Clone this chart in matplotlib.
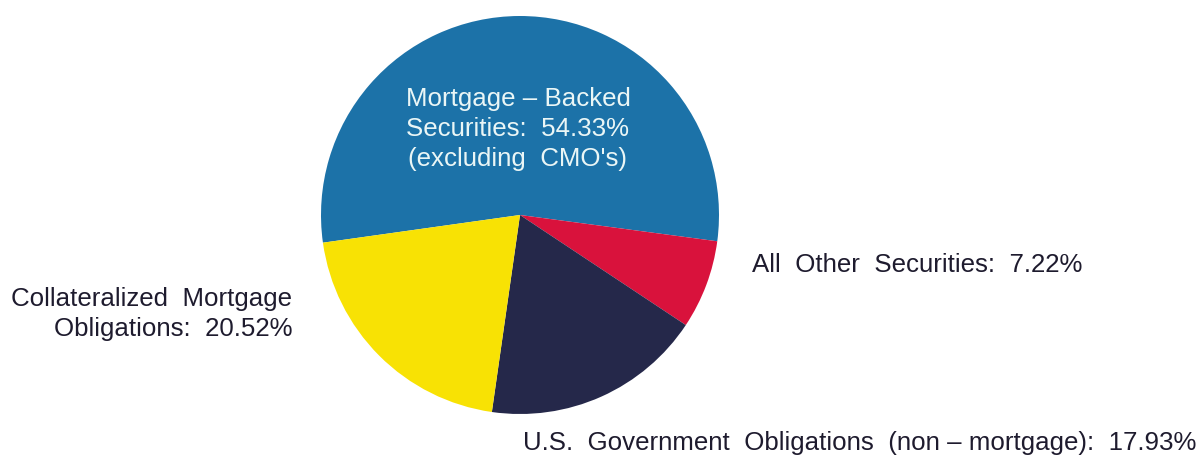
import matplotlib.pyplot as plt

# slice data (clockwise from the left edge)
labels = ["Mortgage – Backed\nSecurities:  54.33%\n(excluding  CMO's)",
          "All  Other  Securities:  7.22%",
          "U.S.  Government  Obligations  (non – mortgage):  17.93%",
          "Collateralized  Mortgage\nObligations:  20.52%"]
shares = [54.33, 7.22, 17.93, 20.52]
colors = ["#1c72a8", "#d9123c", "#25284a", "#f8e204"]

plt.rcParams['font.family'] = ['Liberation Sans', 'DejaVu Sans']

fig = plt.figure(figsize=(12.01, 4.62), dpi=100)
ax = fig.add_axes([0, 0, 1, 1])

ax.pie(shares, colors=colors, startangle=188, counterclock=False,
       center=(520, 247), radius=199, frame=True,
       wedgeprops=dict(linewidth=0))
ax.set_xlim(0, 1201)
ax.set_ylim(0, 462)
ax.axis('off')

fs = 18.6
dark = '#1e1b2e'
ax.text(518, 462 - 129, labels[0], ha='center', va='center', fontsize=fs,
        color='#eaf6f6', linespacing=1.32)
ax.text(752, 462 - 265, labels[1], ha='left', va='center', fontsize=fs,
        color=dark)
ax.text(1196, 462 - 443, labels[2], ha='right', va='center', fontsize=fs,
        color=dark)
ax.text(292, 462 - 314, labels[3], ha='right', va='center', fontsize=fs,
        color=dark, linespacing=1.28)

fig.savefig('out.png', dpi=100)
